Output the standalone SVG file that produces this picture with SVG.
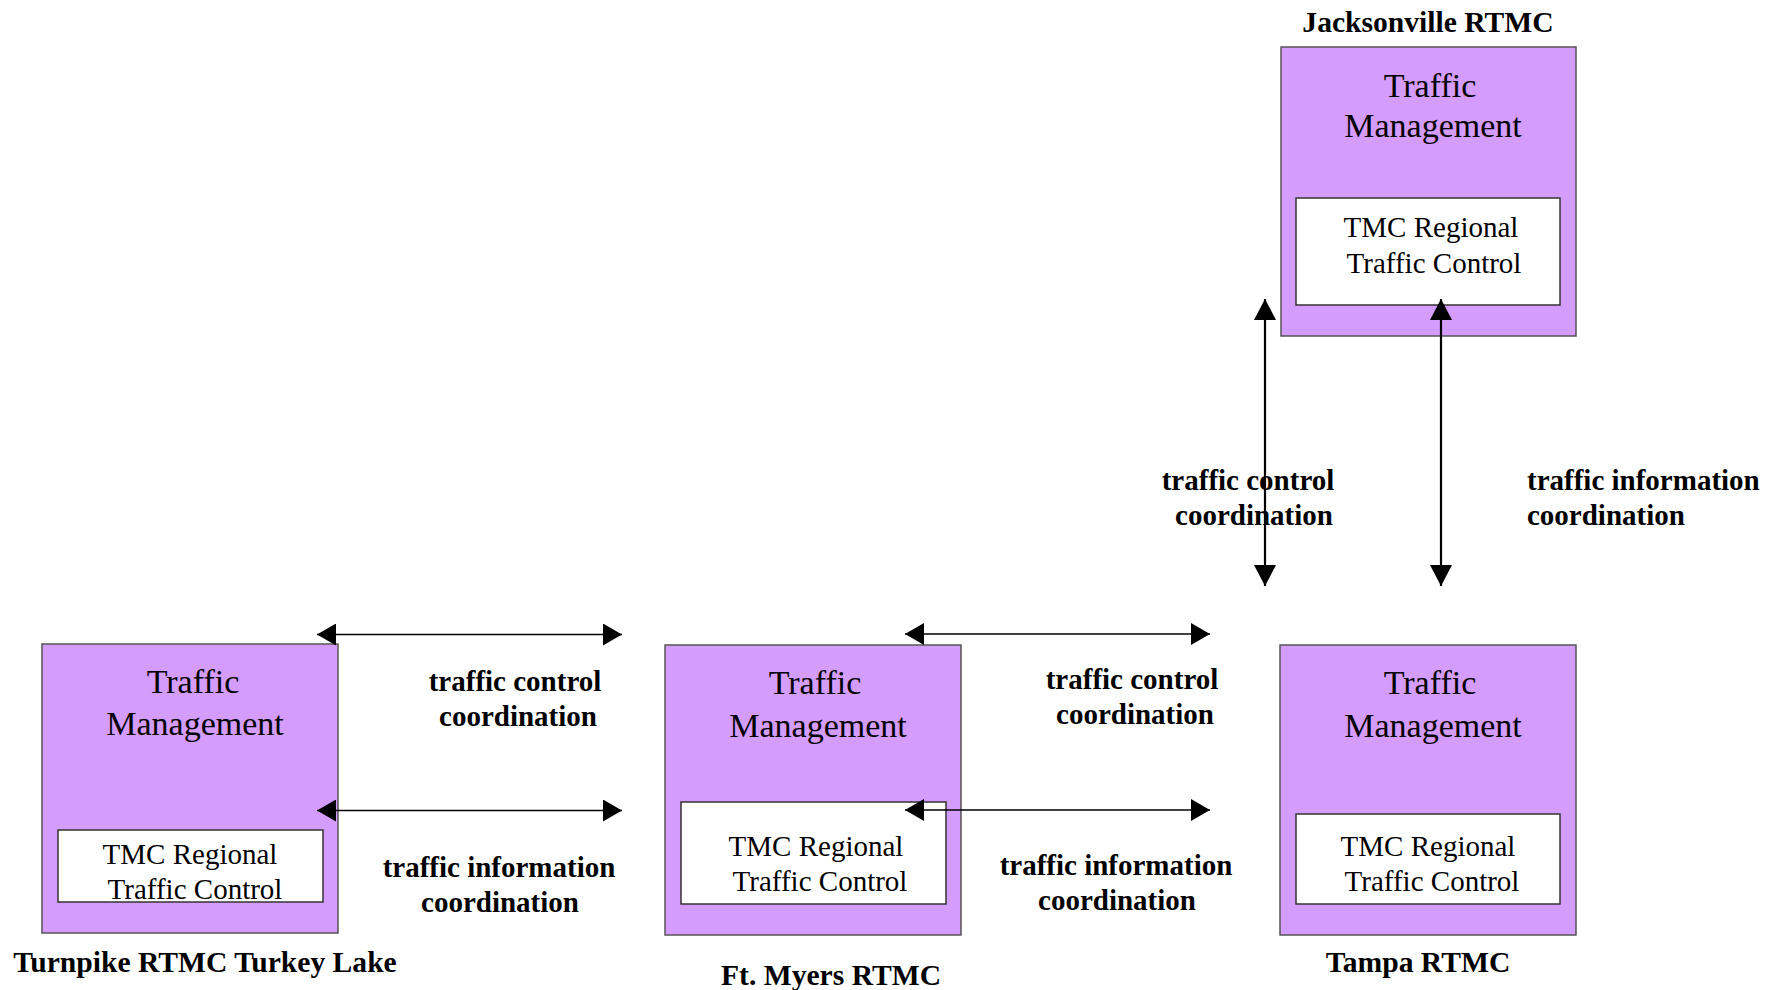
<svg xmlns="http://www.w3.org/2000/svg" width="1766" height="990" viewBox="0 0 1766 990">
<style>
.outer{fill:#D49CFC;stroke:#555;stroke-width:1.5}
.inner{fill:#fff;stroke:#333;stroke-width:1.5}
.tm{font-family:"Liberation Serif",serif;font-size:34px;text-anchor:middle;fill:#000}
.tc{font-family:"Liberation Serif",serif;font-size:29px;text-anchor:middle;fill:#000}
.lbl{font-family:"Liberation Serif",serif;font-size:29px;font-weight:bold;text-anchor:middle;fill:#000}
.ttl{font-family:"Liberation Serif",serif;font-size:29.6px;font-weight:bold;text-anchor:middle;fill:#000}
.conn{stroke:#000;stroke-width:1.6;fill:none;marker-start:url(#ah);marker-end:url(#ah)}
.vconn{stroke:#000;stroke-width:2.2;fill:none;marker-start:url(#ah2);marker-end:url(#ah2)}
</style>
<defs>
<marker id="ah" markerUnits="userSpaceOnUse" markerWidth="20" markerHeight="22" refX="19" refY="11" orient="auto-start-reverse" viewBox="0 0 20 22">
<path d="M0,0 L19,11 L0,22 z" fill="#000"/>
</marker>
<marker id="ah2" markerUnits="userSpaceOnUse" markerWidth="21" markerHeight="22" refX="21" refY="11" orient="auto-start-reverse" viewBox="0 0 21 22">
<path d="M0,0 L21,11 L0,22 z" fill="#000"/>
</marker>
</defs>
<rect width="1766" height="990" fill="#fff"/>

<g id="jacksonville">
<text class="ttl" x="1428" y="32">Jacksonville RTMC</text>
<rect class="outer" x="1281" y="47" width="295" height="289"/>
<text class="tm" x="1430" y="97">Traffic</text>
<text class="tm" x="1433" y="137">Management</text>
<rect class="inner" x="1296" y="198" width="264" height="107"/>
<text class="tc" x="1431" y="237">TMC Regional</text>
<text class="tc" x="1434" y="273">Traffic Control</text>
</g>

<g id="turnpike">
<rect class="outer" x="42" y="644" width="296" height="289"/>
<text class="tm" x="193" y="693">Traffic</text>
<text class="tm" x="195" y="735">Management</text>
<rect class="inner" x="58" y="830" width="265" height="72"/>
<text class="tc" x="190" y="864">TMC Regional</text>
<text class="tc" x="195" y="899">Traffic Control</text>
<text class="ttl" x="205" y="972">Turnpike RTMC Turkey Lake</text>
</g>

<g id="ftmyers">
<rect class="outer" x="665" y="645" width="296" height="290"/>
<text class="tm" x="815" y="694">Traffic</text>
<text class="tm" x="818" y="737">Management</text>
<rect class="inner" x="681" y="802" width="265" height="102"/>
<text class="tc" x="816" y="856">TMC Regional</text>
<text class="tc" x="820" y="891">Traffic Control</text>
<text class="ttl" x="831" y="985">Ft. Myers RTMC</text>
</g>

<g id="tampa">
<rect class="outer" x="1280" y="645" width="296" height="290"/>
<text class="tm" x="1430" y="694">Traffic</text>
<text class="tm" x="1433" y="737">Management</text>
<rect class="inner" x="1296" y="814" width="264" height="90"/>
<text class="tc" x="1428" y="856">TMC Regional</text>
<text class="tc" x="1432" y="891">Traffic Control</text>
<text class="ttl" x="1418" y="972">Tampa RTMC</text>
</g>

<g id="labels">
<text class="lbl" x="515" y="691">traffic control</text>
<text class="lbl" x="518" y="726">coordination</text>
<text class="lbl" x="499" y="877">traffic information</text>
<text class="lbl" x="500" y="912">coordination</text>
<text class="lbl" x="1132" y="689">traffic control</text>
<text class="lbl" x="1135" y="724">coordination</text>
<text class="lbl" x="1116" y="875">traffic information</text>
<text class="lbl" x="1117" y="910">coordination</text>
<text class="lbl" x="1248" y="490">traffic control</text>
<text class="lbl" x="1254" y="525">coordination</text>
<text class="lbl" x="1527" y="490" style="text-anchor:start">traffic information</text>
<text class="lbl" x="1527" y="525" style="text-anchor:start">coordination</text>
</g>

<g id="connectors">
<line class="conn" x1="317" y1="634.5" x2="622" y2="634.5"/>
<line class="conn" x1="317" y1="810.5" x2="622" y2="810.5"/>
<line class="conn" x1="905" y1="634" x2="1210" y2="634"/>
<line class="conn" x1="905" y1="810" x2="1210" y2="810"/>
<line class="vconn" x1="1265" y1="299" x2="1265" y2="586"/>
<line class="vconn" x1="1441" y1="299" x2="1441" y2="586"/>
</g>
</svg>
